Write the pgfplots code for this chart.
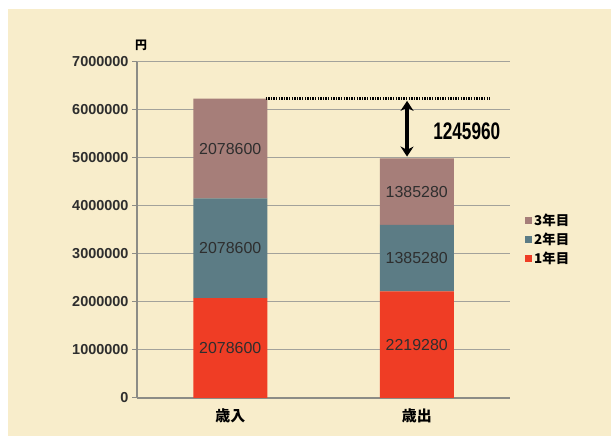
\documentclass[border=0pt]{standalone}
\usepackage{pgfplots}
\pgfplotsset{compat=1.18}
\usepackage{fontspec}
\setmainfont{Liberation Sans}
\newfontfamily\jp{Noto Sans CJK JP}
\usetikzlibrary{arrows.meta}
\definecolor{bg}{HTML}{F8EDCB}
\definecolor{cthree}{HTML}{A67E79}
\definecolor{ctwo}{HTML}{5C7C85}
\definecolor{cone}{HTML}{EF3D25}
\definecolor{gridc}{HTML}{A3A29B}
\definecolor{axc}{HTML}{8C8C86}
\definecolor{txt}{HTML}{2E2E2E}
\tikzset{barlab/.style={font=\fontsize{16}{16}\selectfont, text=txt}}
\begin{document}
\begin{tikzpicture}
\path[use as bounding box] (0bp,0bp) rectangle (611bp,438bp);
\fill[white] (0bp,0bp) rectangle (611bp,438bp);
\fill[bg] (8bp,2bp) rectangle (611bp,429bp);
\node[font=\jp\bfseries\fontsize{12}{12}\selectfont, text=black] at (141bp,393bp) {円};
\begin{axis}[
  at={(137bp,40bp)}, anchor=south west,
  scale only axis, width=373bp, height=336bp,
  xmin=0, xmax=2, ymin=0, ymax=7000000,
  ybar stacked, bar width=74bp,
  axis lines*=left,
  axis line style={axc, line width=1.5bp},
  ymajorgrids, grid style={gridc, line width=1bp},
  ytick={0,1000000,2000000,3000000,4000000,5000000,6000000,7000000},
  yticklabels={0,1000000,2000000,3000000,4000000,5000000,6000000,7000000},
  yticklabel style={font=\bfseries\fontsize{14.5}{14.5}\selectfont, text=txt},
  xtick={0.5,1.5},
  xticklabels={歳入,歳出},
  xticklabel style={font=\jp\bfseries\fontsize{15}{15}\selectfont, text=black, yshift=-2bp},
  tick align=outside,
  major tick length=5bp,
  tick style={draw=axc, line width=1bp},
  x tick style={draw=none},
  scaled y ticks=false,
  legend style={at={(1.04,0.555)}, anchor=north west, draw=none, fill=none,
     font=\jp\bfseries\fontsize{13.5}{13.5}\selectfont, row sep=2bp,
     inner sep=0pt},
  reverse legend,
  legend cell align=left,
  legend image code/.code={\fill[#1] (0bp,-3.5bp) rectangle (7bp,3.5bp);},
]
\addplot[fill=cone, draw=none] coordinates {(0.5,2078600) (1.5,2219280)};
\addplot[fill=ctwo, draw=none] coordinates {(0.5,2078600) (1.5,1385280)};
\addplot[fill=cthree, draw=none] coordinates {(0.5,2078600) (1.5,1385280)};
\legend{1年目,2年目,3年目}
\coordinate (a1) at (axis cs:0.5,1039300);
\coordinate (a2) at (axis cs:0.5,3117900);
\coordinate (a3) at (axis cs:0.5,5196500);
\coordinate (b1) at (axis cs:1.5,1109640);
\coordinate (b2) at (axis cs:1.5,2911920);
\coordinate (b3) at (axis cs:1.5,4297200);
\coordinate (d1) at (axis cs:0.69,6235800);
\coordinate (d2) at (axis cs:1.893,6235800);
\coordinate (r1) at (axis cs:1.448,6190000);
\coordinate (r2) at (axis cs:1.448,5030000);
\coordinate (lab) at (axis cs:1.575,5560000);
\end{axis}
\node[barlab] at (a1) {2078600};
\node[barlab] at (a2) {2078600};
\node[barlab] at (a3) {2078600};
\node[barlab] at (b1) {2219280};
\node[barlab] at (b2) {1385280};
\node[barlab] at (b3) {1385280};
\draw[black, line width=2.5bp, dash pattern=on 1.3bp off 1.3bp] (d1) -- (d2);
\draw[{Stealth[length=10bp,width=13bp]}-{Stealth[length=10bp,width=13bp]}, black, line width=3.5bp] (r1) -- (r2);
\node[font=\bfseries\fontsize{24}{24}\selectfont, xscale=0.72, anchor=west, text=black] at (lab) {1245960};
\end{tikzpicture}
\end{document}
